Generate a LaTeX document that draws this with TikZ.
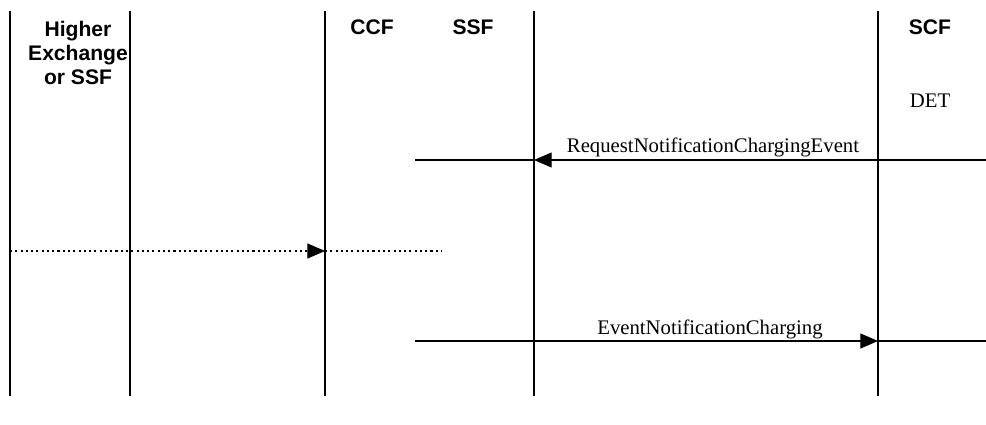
\documentclass[tikz,border=0pt]{standalone}
\usepackage{fontspec}
\setmainfont{Liberation Serif}
\newfontfamily\headsans{Liberation Sans}
\usetikzlibrary{arrows.meta,positioning}

\begin{document}
\begin{tikzpicture}[x=0.02cm,y=-0.02cm,
  life/.style={draw=black,line width=1.1pt},
  ent/.style={font=\headsans\bfseries\fontsize{12}{13.6}\selectfont,align=center,inner sep=0pt},
  msg/.style={font=\fontsize{11.8}{14}\selectfont,inner sep=0pt,anchor=base},
  sig/.style={draw=black,line width=0.6pt},
  arr/.style={sig,-{Triangle[length=10pt,width=8.5pt]}},
  dots/.style={sig,dash pattern=on 1.2pt off 1.8pt}
]
\useasboundingbox (0,0) rectangle (986,425);

% lifelines
\foreach \n/\x in {hxl/10,hxr/130,ccf/325,ssf/534,scf/878}{
  \coordinate (\n) at (\x,11);
  \coordinate (\n-end) at (\x,396);
  \draw[life] (\n) -- (\n-end);
}

% entities
\node[ent,anchor=north] (hx) at (78,21) {Higher\\Exchange\\or SSF};
\node[ent,anchor=base] (ccf-lbl) at (372,35) {CCF};
\node[ent,anchor=base] (ssf-lbl) at (473,35) {SSF};
\node[ent,anchor=base] (scf-lbl) at (930,35) {SCF};
\node[msg] (det) at (930,108) {DET};

% RequestNotificationChargingEvent
\coordinate (rq-in) at (986,160);
\coordinate (rq-out) at (415,160);
\draw[arr] (rq-in) -- (ssf |- rq-in);
\draw[sig] (ssf |- rq-in) -- (rq-out);
\node[msg] (rq-lbl) at (713,153) {RequestNotificationChargingEvent};

% trunk signal
\coordinate (tr-in) at (10,251);
\coordinate (tr-out) at (442,251);
\draw[dots,arr] (tr-in) -- (ccf |- tr-in);
\draw[dots] (ccf |- tr-in) -- (tr-out);

% EventNotificationCharging
\coordinate (ev-in) at (415,341);
\coordinate (ev-out) at (986,341);
\draw[arr] (ev-in) -- (scf |- ev-in);
\draw[sig] (scf |- ev-in) -- (ev-out);
\node[msg] (ev-lbl) at (710,334) {EventNotificationCharging};
\end{tikzpicture}
\end{document}
